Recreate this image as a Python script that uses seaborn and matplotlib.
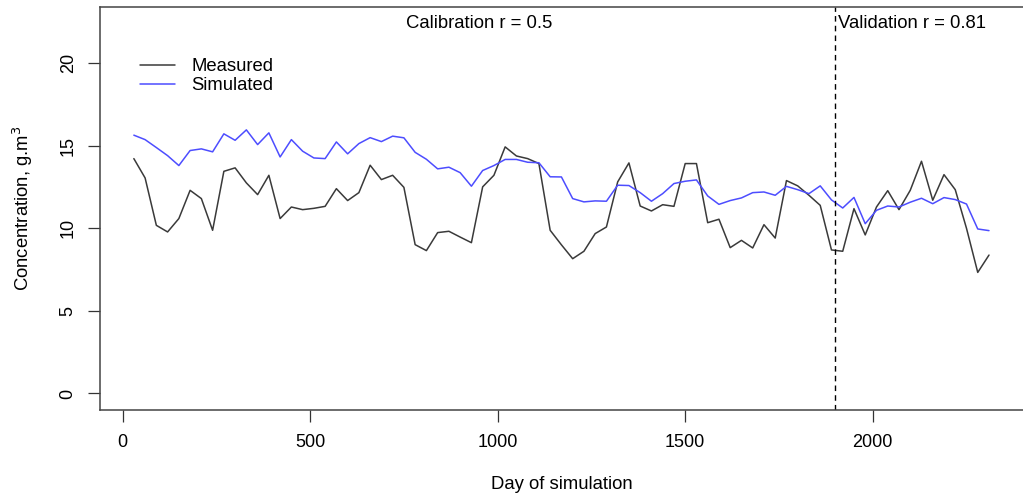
import matplotlib
matplotlib.use("Agg")
import matplotlib.pyplot as plt
import seaborn as sns
import pandas as pd

# sampling days (every 30 days)
days = list(range(30, 2311, 30))

measured = [14.22, 13.05, 10.18, 9.78, 10.59, 12.30, 11.80, 9.88, 13.45, 13.66,
            12.75, 12.04, 13.21, 10.59, 11.29, 11.13, 11.21, 11.33, 12.40, 11.68,
            12.16, 13.82, 12.95, 13.21, 12.48, 9.01, 8.65, 9.74, 9.82, 9.47,
            9.13, 12.51, 13.21, 14.93, 14.38, 14.22, 13.92, 9.88, 9.00, 8.16,
            8.61, 9.68, 10.08, 12.81, 13.96, 11.35, 11.05, 11.43, 11.33, 13.92,
            13.92, 10.34, 10.55, 8.83, 9.27, 8.81, 10.22, 9.41, 12.89, 12.57,
            12.00, 11.39, 8.69, 8.61, 11.19, 9.60, 11.29, 12.28, 11.13, 12.30,
            14.06, 11.70, 13.25, 12.34, 10.00, 7.33, 8.38]

simulated = [15.64, 15.37, 14.89, 14.40, 13.80, 14.71, 14.81, 14.63, 15.72, 15.33,
             15.96, 15.07, 15.78, 14.32, 15.37, 14.67, 14.26, 14.22, 15.23, 14.51,
             15.13, 15.49, 15.25, 15.58, 15.48, 14.60, 14.18, 13.60, 13.70, 13.37,
             12.55, 13.50, 13.80, 14.17, 14.17, 14.00, 13.97, 13.12, 13.11, 11.80,
             11.60, 11.66, 11.64, 12.61, 12.59, 12.16, 11.64, 12.10, 12.71, 12.85,
             12.93, 11.96, 11.45, 11.68, 11.84, 12.16, 12.20, 12.00, 12.54, 12.34,
             12.10, 12.57, 11.72, 11.23, 11.87, 10.28, 11.09, 11.35, 11.29, 11.58,
             11.82, 11.49, 11.86, 11.74, 11.47, 9.96, 9.86]

split_day = 1900
series_names = ["Measured", "Simulated"]
y_ticks = [0, 5, 10, 15, 20]
x_ticks = [0, 500, 1000, 1500, 2000]

df = pd.DataFrame({
    "day": days * 2,
    "value": measured + simulated,
    "series": ["Measured"] * len(days) + ["Simulated"] * len(days),
})

sns.set_style("ticks")
plt.rcParams["font.family"] = ["Liberation Sans", "DejaVu Sans"]
plt.rcParams["text.color"] = "black"
plt.rcParams["axes.labelcolor"] = "black"
plt.rcParams["xtick.color"] = "black"
plt.rcParams["ytick.color"] = "black"

fs = 13.3

fig = plt.figure(figsize=(10.23, 4.97), dpi=100)
ax = fig.add_axes([0.0974, 0.1751, 0.9028, 0.8108])

sns.lineplot(data=df, x="day", y="value", hue="series", hue_order=series_names,
             palette=["#3a3a3a", "#4d4dff"], linewidth=1.1, ax=ax)

ax.axvline(split_day, color="black", linestyle=(0, (4, 3)), linewidth=1.0)

ax.set_xlim(-61.2, 2401.2)
ax.set_ylim(-1.0, 23.4)
ax.set_xticks(x_ticks)
ax.set_yticks(y_ticks)
ax.set_yticklabels([str(t) for t in y_ticks], rotation=90, va="center")
ax.tick_params(axis="both", labelsize=13, length=8.5, width=0.9,
               color="#333333", direction="out")
ax.tick_params(axis="x", pad=9)
ax.tick_params(axis="y", pad=8)

ax.set_xlabel("Day of simulation", fontsize=fs, labelpad=18)
ax.set_ylabel(r"Concentration, g.m$^3$", fontsize=fs, labelpad=18)

for side in ["left", "top", "bottom"]:
    ax.spines[side].set_color("#444444")
    ax.spines[side].set_linewidth(1.1)
ax.spines["right"].set_visible(False)

ax.text(0.5 * split_day, 22.4, "Calibration r = 0.5", ha="center", va="center",
        fontsize=fs)
ax.text(split_day + 8, 22.4, "Validation r = 0.81", ha="left", va="center",
        fontsize=fs)

ax.legend(loc="upper left", bbox_to_anchor=(0.044, 0.873), frameon=False,
          fontsize=fs, borderpad=0, borderaxespad=0, handlelength=1.9,
          handletextpad=0.85, labelspacing=0.1)

fig.savefig("out.png", dpi=100)
